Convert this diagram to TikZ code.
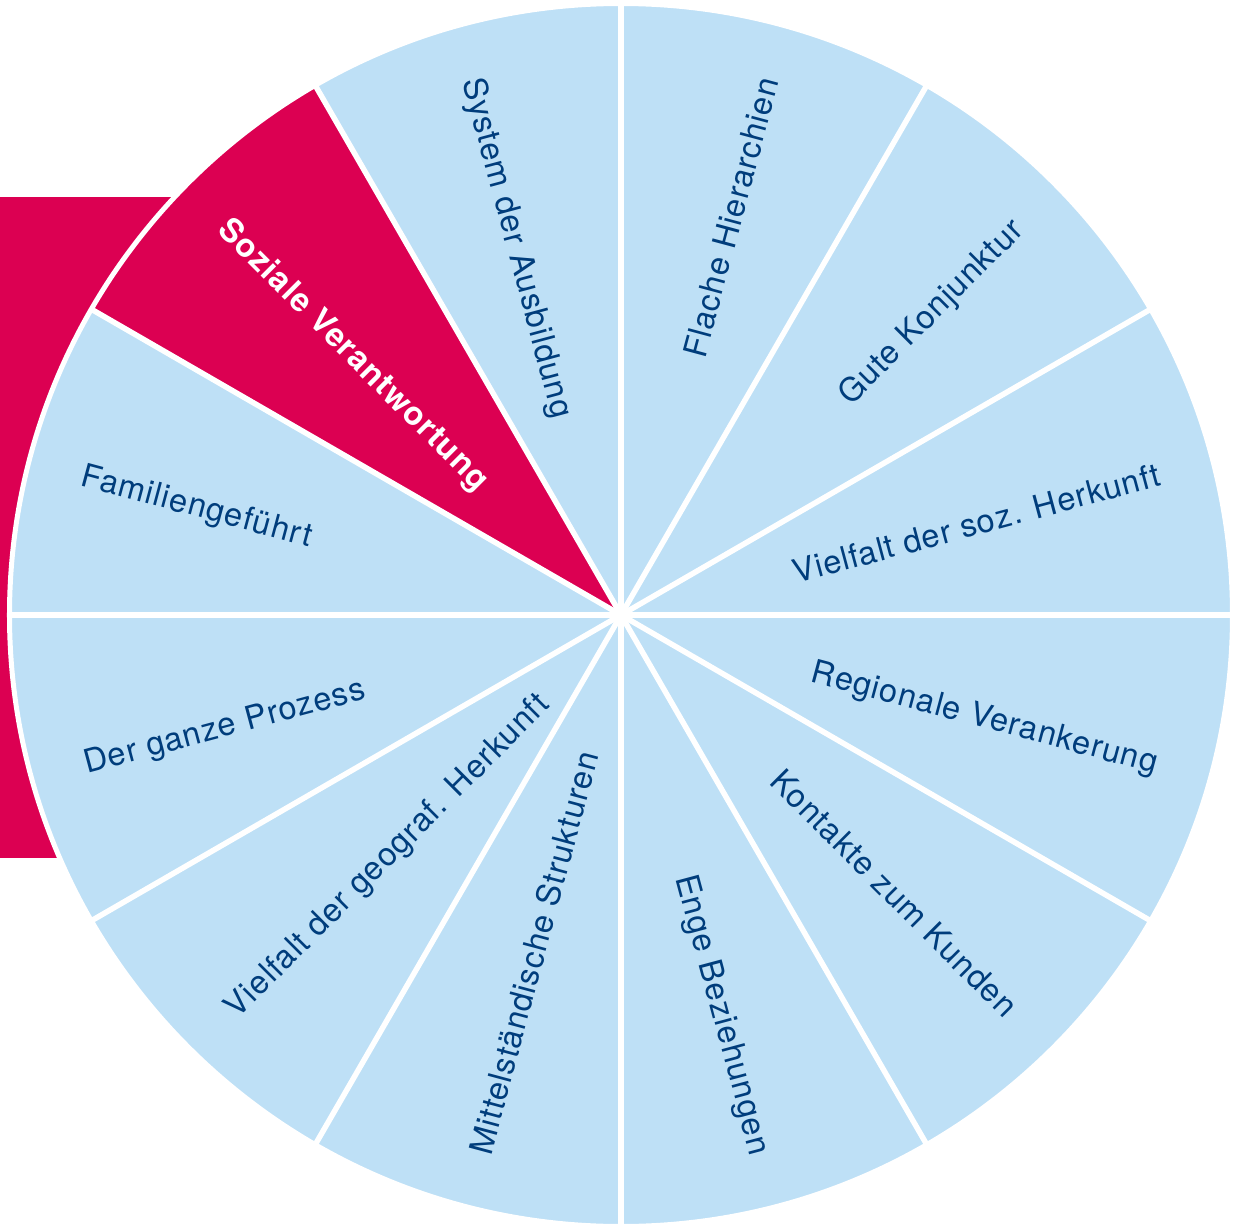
\documentclass[tikz,border=0pt]{standalone}
\usepackage{fontspec}
\setmainfont{TeX Gyre Heros}[LetterSpace=3]
\definecolor{hellblau}{RGB}{190,224,246}
\definecolor{himbeer}{RGB}{220,0,82}
\definecolor{dunkelblau}{RGB}{0,61,124}

\begin{document}
\begin{tikzpicture}[font=\fontsize{18.5}{20}\selectfont,
  lab/.style={text=dunkelblau, inner sep=0pt, text height=0.6cm, text depth=0pt},
  rlab/.style={lab, anchor=east},
  llab/.style={lab, anchor=west}]
\def\r{12.2}
\def\t{11.14}
\def\w{1.1mm}
\useasboundingbox (-12.42,-12.2) rectangle (12.34,12.3);
\coordinate (m) at (0,0);
% red band behind the wheel
\fill[himbeer] (-12.42,-4.86) rectangle (-5,8.36);
% wheel
\fill[hellblau] (m) circle (\r);
\fill[himbeer] (m) -- (120:\r) arc (120:150:\r) -- cycle;
\draw[white, line width=\w] (0:\r) -- (180:\r);
\draw[white, line width=\w] (30:\r) -- (210:\r);
\draw[white, line width=\w] (60:\r) -- (240:\r);
\draw[white, line width=\w] (90:\r) -- (270:\r);
\draw[white, line width=\w] (120:\r) -- (300:\r);
\draw[white, line width=\w] (150:\r) -- (330:\r);
\draw[white, line width=1mm] (m) circle (12.23);
% labels, right half
\node[rlab, rotate=15]  (l1)  at (15:\t)  {Vielfalt der soz. Herkunft};
\node[rlab, rotate=45]  (l2)  at (45:\t)  {Gute Konjunktur};
\node[rlab, rotate=75]  (l3)  at (75:\t)  {Flache Hierarchien};
\node[rlab, rotate=-15] (l12) at (-15:\t) {Regionale Verankerung};
\node[rlab, rotate=-45] (l11) at (-45:\t) {Kontakte zum Kunden};
\node[rlab, rotate=-75] (l10) at (-75:\t) {Enge Beziehungen};
% labels, left half
\node[llab, rotate=-75] (l4)  at (105:\t) {System der Ausbildung};
\node[llab, rotate=-45, text=white, font=\fontsize{18.5}{20}\selectfont\bfseries] (l5) at (135:\t) {Soziale Verantwortung};
\node[llab, rotate=-15] (l6)  at (165:\t) {Familiengeführt};
\node[llab, rotate=15]  (l7)  at (195:\t) {Der ganze Prozess};
\node[llab, rotate=45]  (l8)  at (225:\t) {Vielfalt der geograf. Herkunft};
\node[llab, rotate=75]  (l9)  at (255:\t) {Mittelständische Strukturen};
\end{tikzpicture}
\end{document}
